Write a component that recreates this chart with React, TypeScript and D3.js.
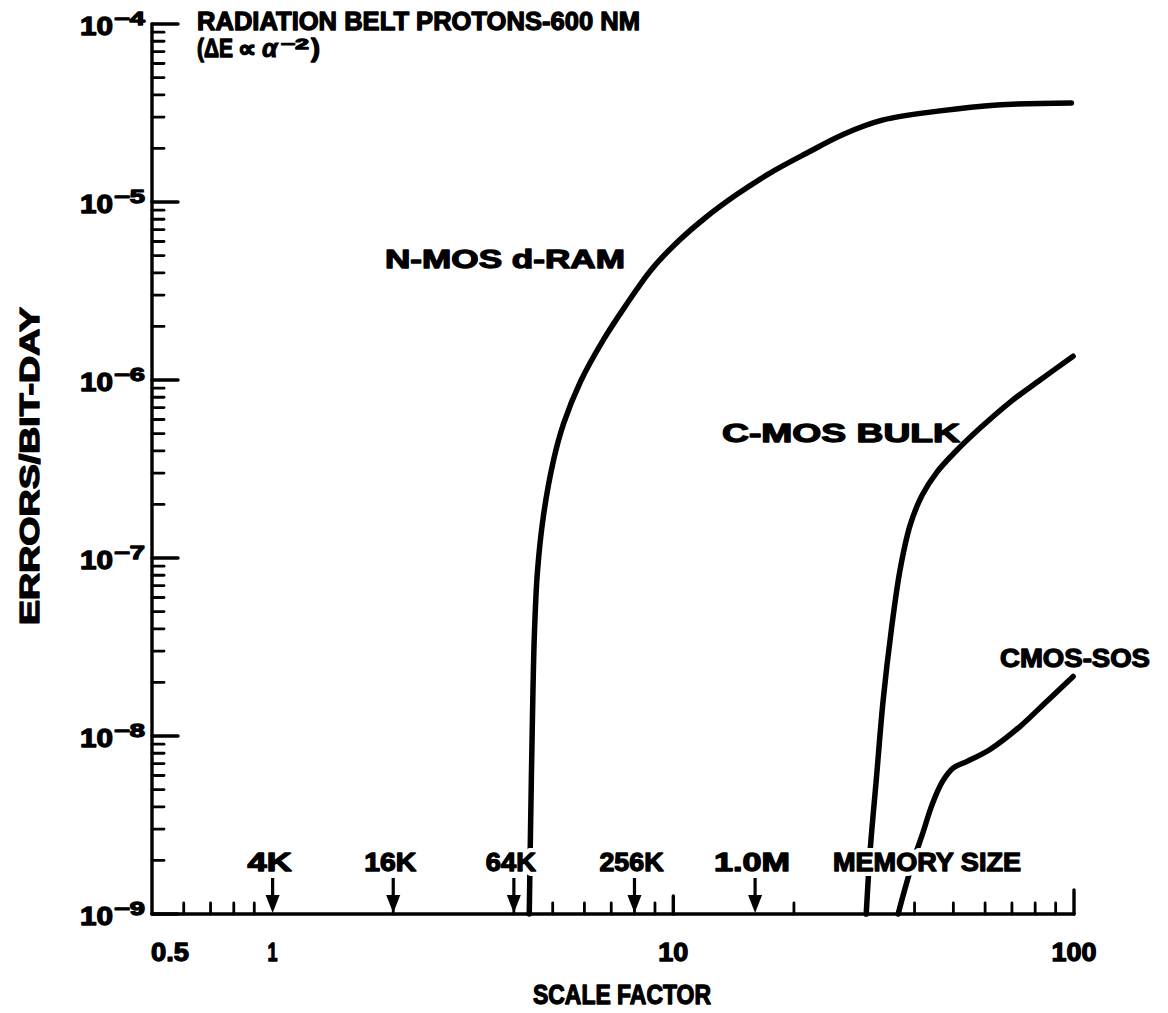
import React from "react";
import * as d3 from "d3";

// N-MOS d-RAM curve (scale factor, errors/bit-day)
const nmosX = [4.37, 4.40, 4.45, 4.50, 4.58, 4.74, 5.02, 5.32, 5.86, 6.69, 7.59, 8.76, 10.06, 12.0, 14.3, 17.3, 21.5, 26.7, 33.4, 46.3, 64.3, 98.5];
const nmosY = [1e-9, 2.78e-9, 1.23e-8, 3.69e-8, 8.34e-8, 1.72e-7, 3.51e-7, 5.66e-7, 9.75e-7, 1.68e-6, 2.6e-6, 4.1e-6, 5.74e-6, 8.13e-6, 1.09e-5, 1.44e-5, 1.88e-5, 2.41e-5, 2.89e-5, 3.25e-5, 3.51e-5, 3.6e-5];

// C-MOS BULK curve
const cbulkX = [30.3, 31.0, 32.1, 33.4, 35.0, 36.8, 39.0, 41.8, 45.5, 50.5, 58.3, 69.3, 82.3, 99.5];
const cbulkY = [1e-9, 2.29e-9, 5.66e-9, 1.59e-8, 3.94e-8, 8.57e-8, 1.53e-7, 2.26e-7, 3.04e-7, 3.94e-7, 5.37e-7, 7.52e-7, 1.0e-6, 1.36e-6];

// CMOS-SOS curve
const sosX = [36.4, 38.1, 39.9, 41.8, 44.2, 46.9, 49.9, 54.1, 61.7, 73.3, 85.6, 99.5];
const sosY = [1e-9, 1.46e-9, 2.06e-9, 2.78e-9, 4.09e-9, 5.52e-9, 6.6e-9, 7.2e-9, 8.4e-9, 1.13e-8, 1.57e-8, 2.16e-8];

// memory size markers
const memoryX = [1, 2, 4, 8, 16];
const memoryLabels = ["4K", "16K", "64K", "256K", "1.0M"];
const memoryLabelWidths = [44, 52, 50, 64, 76];

// axis ticks
const xTickValues = [0.5, 1, 10, 100];
const xTickLabels = ["0.5", "1", "10", "100"];
const yDecades = [-4, -5, -6, -7, -8, -9];

const FONT = "'Liberation Sans', Arial, Helvetica, sans-serif";

function T(props: any) {
  const { x, y, w, size = 26, anchor = "start", halo = false, children, transform, sw = 1.3 } = props;
  const common: any = {
    x,
    y,
    fontFamily: FONT,
    fontWeight: 700,
    fontSize: size,
    textAnchor: anchor,
    transform,
  };
  if (w) {
    common.textLength = w;
    common.lengthAdjust = "spacingAndGlyphs";
  }
  return (
    <g>
      {halo && (
        <text {...common} fill="#fff" stroke="#fff" strokeWidth={10} strokeLinejoin="round">
          {children}
        </text>
      )}
      <text {...common} fill="#000" stroke="#000" strokeWidth={sw} strokeLinejoin="round">
        {children}
      </text>
    </g>
  );
}

export default function App() {
  const W = 1168;
  const H = 1013;
  const x = d3.scaleLog().domain([0.5, 100]).range([152, 1074]);
  const y = d3.scaleLog().domain([1e-9, 1e-4]).range([914, 24]);
  const x0 = x(0.5);
  const y0 = y(1e-9);

  const line = d3
    .line<[number, number]>()
    .x((d) => x(d[0]))
    .y((d) => y(d[1]))
    .curve(d3.curveCatmullRom.alpha(0.5));

  const nmos = nmosX.map((v, i) => [v, nmosY[i]] as [number, number]);
  const cbulk = cbulkX.map((v, i) => [v, cbulkY[i]] as [number, number]);
  const sos = sosX.map((v, i) => [v, sosY[i]] as [number, number]);

  // minor x ticks
  const xMinor: number[] = [];
  [0.6, 0.7, 0.8, 0.9].forEach((v) => xMinor.push(v));
  for (let k = 2; k <= 9; k++) if (k !== 3) xMinor.push(k);
  for (let k = 2; k <= 9; k++) if (k !== 3) xMinor.push(k * 10);

  // minor y ticks
  const yMinor: number[] = [];
  for (let d = -9; d <= -5; d++) for (let k = 2; k <= 9; k++) yMinor.push(k * Math.pow(10, d));

  return (
    <svg width={W} height={H} style={{ position: "absolute", left: 0, top: 0, background: "#fff" }}>
      <rect x={0} y={0} width={W} height={H} fill="#fff" />

      {/* curves */}
      <g fill="none" stroke="#000" strokeWidth={5.5} strokeLinecap="round" strokeLinejoin="round">
        <path d={line(nmos) || ""} />
        <path d={line(cbulk) || ""} />
        <path d={line(sos) || ""} />
      </g>

      {/* axes */}
      <g stroke="#000" strokeWidth={3.4} strokeLinecap="round">
        <line x1={x0} y1={y(1e-4)} x2={x0} y2={y0} />
        <line x1={x0} y1={y0} x2={x(100)} y2={y0} />
        {yDecades.map((d) => (
          <line key={"ym" + d} x1={x0} x2={x0 + 26} y1={y(Math.pow(10, d))} y2={y(Math.pow(10, d))} />
        ))}
        {yMinor.map((v, i) => (
          <line key={"yn" + i} x1={x0} x2={x0 + 12} y1={y(v)} y2={y(v)} strokeWidth={2.8} />
        ))}
        {xMinor.map((v, i) => (
          <line key={"xn" + i} x1={x(v)} x2={x(v)} y1={y0} y2={y0 - 11} strokeWidth={2.8} />
        ))}
        <line x1={x(10)} x2={x(10)} y1={y0} y2={y0 - 18} />
        <line x1={x(100)} x2={x(100)} y1={y0} y2={y0 - 24} />
      </g>

      {/* memory size arrows */}
      {memoryX.map((v, i) => (
        <g key={"ar" + i}>
          <line x1={x(v)} x2={x(v)} y1={878} y2={900} stroke="#000" strokeWidth={3.2} />
          <path d={`M${x(v) - 7},${y0 - 19} L${x(v) + 7},${y0 - 19} L${x(v)},${y0 - 1} Z`} fill="#000" />
        </g>
      ))}
      {memoryX.map((v, i) => (
        <T key={"ml" + i} x={x(v) - 3} y={871} w={memoryLabelWidths[i]} anchor="middle" halo>
          {memoryLabels[i]}
        </T>
      ))}
      <T x={833} y={871} w={188} halo>MEMORY SIZE</T>

      {/* y tick labels */}
      {yDecades.map((d) => (
        <g key={"yl" + d}>
          <T x={113} y={y(Math.pow(10, d)) + 11} anchor="end" size={26} w={33}>10</T>
          <T x={114} y={y(Math.pow(10, d)) + 1} size={19} w={31}>{"\u2212" + Math.abs(d)}</T>
        </g>
      ))}

      {/* x tick labels */}
      {xTickValues.map((v, i) => (
        <T key={"xl" + i} x={x(v) + (i === 0 ? 18 : 0)} y={961} anchor="middle" size={26} w={[38, 10, 30, 45][i]}>
          {xTickLabels[i]}
        </T>
      ))}

      {/* axis titles */}
      <T x={622} y={1004} anchor="middle" size={27} w={178}>SCALE FACTOR</T>
      <T x={0} y={0} anchor="middle" size={27} w={318} transform="translate(39,466) rotate(-90)">ERRORS/BIT-DAY</T>

      {/* title */}
      <T x={197} y={30} size={26} w={443}>RADIATION BELT PROTONS-600 NM</T>
      <g>
        <T x={197} y={57} size={25} w={36}>(ΔE</T>
        <T x={238} y={57} size={24} w={18}>∝</T>
        <text x={262} y={57} fontFamily={FONT} fontStyle="italic" fontWeight={700} fontSize={25} fill="#000" stroke="#000" strokeWidth={1}>α</text>
        <T x={281} y={49} size={15} w={28}>{"\u22122"}</T>
        <T x={311} y={57} size={25} w={9}>)</T>
      </g>

      {/* curve labels */}
      <T x={385} y={268} size={26} w={240}>N-MOS d-RAM</T>
      <T x={722} y={442} size={26} w={238}>C-MOS BULK</T>
      <T x={1000} y={667} size={26} w={150}>CMOS-SOS</T>
    </svg>
  );
}
